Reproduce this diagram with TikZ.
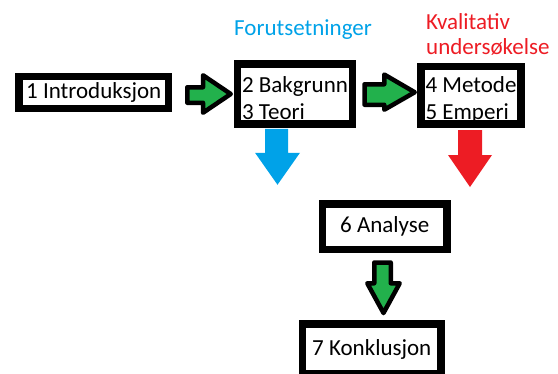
\documentclass[tikz,border=0pt]{standalone}
\usepackage{fontspec}
\setmainfont{Carlito}
\usetikzlibrary{calc}
\definecolor{flowgreen}{HTML}{22B14C}
\definecolor{premiseblue}{HTML}{00A2E8}
\definecolor{methodred}{HTML}{ED1C24}

% tall invisible strut that lowers two-line box texts a little
\newcommand{\toppad}{\rule{0pt}{25pt}}

\begin{document}
\begin{tikzpicture}[x=1pt,y=-1pt,
  chapter/.style={draw=black, line width=7.5pt, fill=white, inner sep=0pt,
    align=left, font=\fontsize{23}{27}\selectfont},
  flowarrow/.style={draw=black, line width=4.5pt, fill=flowgreen, line join=round},
  tag/.style={inner sep=0pt, anchor=base west, font=\fontsize{23}{27}\selectfont}]
\useasboundingbox (0,0) rectangle (558,373);
\clip (0,0) rectangle (558,373);

% chapter boxes
\node[chapter, minimum width=149.5pt, minimum height=32pt]   (b1) at (93.75,92.5)  {1 Introduksjon};
\node[chapter, minimum width=115pt,   minimum height=60pt]   (b2) at (295,94)      {\toppad 2 Bakgrunn\\3 Teori};
\node[chapter, minimum width=100pt,   minimum height=57.5pt] (b4) at (471,95.25)   {\toppad 4 Metode\\5 Emperi};
\node[chapter, minimum width=124.5pt, minimum height=45.5pt] (b6) at (384.75,226.75) {6 Analyse};
\node[chapter, minimum width=138.5pt, minimum height=50pt]   (b7) at (371.75,349)  {7 Konklusjon};

% group labels
\node[tag, text=premiseblue] (pre) at (234,35) {Forutsetninger};
\node[tag, text=methodred] (kv1) at (426,29) {Kvalitativ};
\node[tag, text=methodred] (kv2) at (426,54) {undersøkelse};

% green flow arrows, drawn from their tips
\draw[flowarrow] ([xshift=-3pt]b2.west) -- ++(-27.75,-18.75) -- ++(0,12) -- ++(-15.75,0)
  -- ++(0,15.5) -- ++(15.75,0) -- ++(0,10) -- cycle;
\draw[flowarrow] ([xshift=-2.5pt,yshift=3pt]b4.west) -- ++(-30.5,-17.75) -- ++(0,9.75) -- ++(-19.75,0)
  -- ++(0,20.5) -- ++(19.75,0) -- ++(0,5) -- cycle;
\draw[flowarrow] ([xshift=11.75pt,yshift=7.25pt]b7.north) -- ++(16.25,-29.75) -- ++(-9,0) -- ++(0,-20.75)
  -- ++(-16.5,0) -- ++(0,20.75) -- ++(-7,0) -- cycle;

% coloured arrows under the two groups
\fill[premiseblue] ([xshift=-17.5pt,yshift=-57pt]b2.south) -- ++(22.5,-32) -- ++(-12,0) -- ++(0,-24)
  -- ++(-23,0) -- ++(0,24) -- ++(-10,0) -- cycle;
\fill[methodred] ([xshift=-1pt,yshift=-59.25pt]b4.south) -- ++(22,-32) -- ++(-10,0) -- ++(0,-25)
  -- ++(-24,0) -- ++(0,25) -- ++(-10,0) -- cycle;
\end{tikzpicture}
\end{document}
